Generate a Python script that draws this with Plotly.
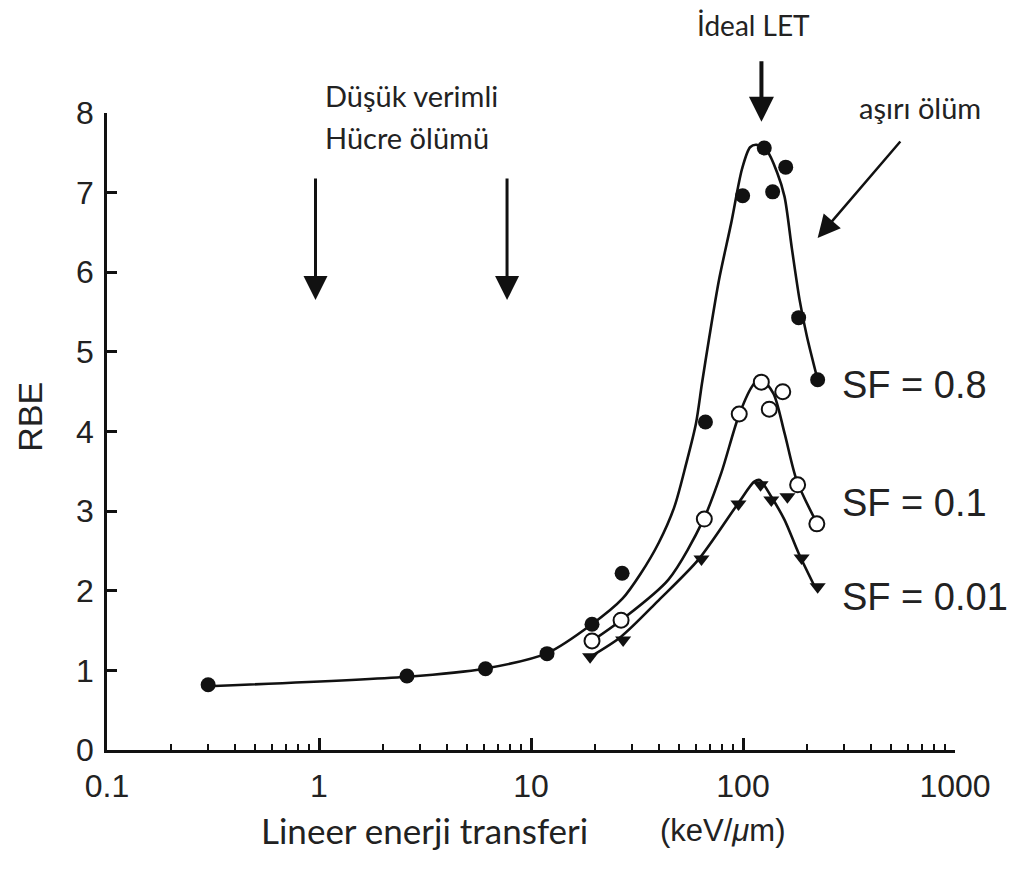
import plotly.graph_objects as go

# ---- data ----
let_sf08 = [0.3, 2.6, 6.1, 11.9, 19.4, 26.9, 66.5, 99.6, 126, 138, 159, 183, 225]
rbe_sf08 = [0.82, 0.93, 1.02, 1.21, 1.58, 2.22, 4.12, 6.96, 7.56, 7.01, 7.32, 5.43, 4.65]

let_sf01 = [19.4, 26.6, 65.7, 96, 122, 133, 154, 181, 223]
rbe_sf01 = [1.37, 1.63, 2.90, 4.22, 4.62, 4.28, 4.50, 3.33, 2.84]

let_sf001 = [19, 27.2, 63.7, 95.2, 121, 136, 162, 189, 225]
rbe_sf001 = [1.17, 1.38, 2.40, 3.09, 3.33, 3.14, 3.18, 2.41, 2.05]

# fitted curves
curve08_x = [0.3, 2.6, 6.0, 12, 19.4, 27, 33, 40, 47.4, 54, 60, 64, 69, 77, 88, 99, 108, 116, 130, 145, 157, 170, 185, 200, 225]
curve08_y = [0.8, 0.92, 1.02, 1.22, 1.58, 1.9, 2.22, 2.6, 3.05, 3.6, 4.1, 4.6, 5.15, 5.9, 6.62, 7.3, 7.57, 7.6, 7.52, 7.25, 6.95, 6.3, 5.65, 5.2, 4.65]

curve01_x = [19.4, 26.6, 44.5, 65, 79, 95, 110, 120, 139, 157, 179, 223]
curve01_y = [1.37, 1.63, 2.14, 2.89, 3.48, 4.18, 4.56, 4.67, 4.48, 3.98, 3.39, 2.85]

curve001_x = [19, 26.5, 40, 61.6, 95, 113, 120, 136, 157, 183, 218]
curve001_y = [1.17, 1.42, 1.88, 2.39, 3.1, 3.37, 3.39, 3.18, 2.89, 2.47, 2.05]

x_tickvals = [0.1, 1, 10, 100, 1000]
x_ticktext = ["0.1", "1", "10", "100", "1000"]
x_minor = [m * d for d in [0.1, 1, 10, 100] for m in range(2, 10)]
y_tickvals = [0, 1, 2, 3, 4, 5, 6, 7, 8]

INK = "#111111"
TXT = "#222222"
SANS = "Liberation Sans, Arial, sans-serif"
CAL = "Lato, Open Sans, sans-serif"

fig = go.Figure()
for cx, cy in [(curve08_x, curve08_y), (curve01_x, curve01_y), (curve001_x, curve001_y)]:
    fig.add_trace(go.Scatter(x=cx, y=cy, mode="lines",
                             line=dict(color=INK, width=2.6, shape="spline", smoothing=0.8),
                             hoverinfo="skip", showlegend=False))

fig.add_trace(go.Scatter(x=let_sf08, y=rbe_sf08, mode="markers",
                         marker=dict(symbol="circle", size=15, color=INK),
                         showlegend=False, cliponaxis=False))
fig.add_trace(go.Scatter(x=let_sf01, y=rbe_sf01, mode="markers",
                         marker=dict(symbol="circle", size=15, color="white",
                                     line=dict(color=INK, width=2)),
                         showlegend=False, cliponaxis=False))
fig.add_trace(go.Scatter(x=let_sf001, y=rbe_sf001, mode="markers",
                         marker=dict(symbol="triangle-down", size=14, color=INK),
                         showlegend=False, cliponaxis=False))


def label(text, x, y, size, family=CAL, xanchor="center", angle=0):
    return dict(text=text, x=x, y=y, xref="paper", yref="paper", xanchor=xanchor, yanchor="middle",
                textangle=angle, showarrow=False, font=dict(family=family, size=size, color=TXT))


ann = []
ann.append(label("İdeal LET", 0.762, 1.138, 28))
ann.append(label("Düşük verimli", 0.2547, 1.027, 29, xanchor="left"))
ann.append(label("Hücre ölümü", 0.2547, 0.962, 29, xanchor="left"))
ann.append(label("aşırı ölüm", 0.959, 1.008, 29))
for txt, yy in [("SF = 0.8", 0.573), ("SF = 0.1", 0.388), ("SF = 0.01", 0.240)]:
    ann.append(label(txt, 0.864, yy, 38, family=SANS, xanchor="left"))
ann.append(label("Lineer enerji transferi", 0.374, -0.1256, 35))
ann.append(label("(keV/<i>μ</i>m)", 0.727, -0.1256, 31, family=SANS))
ann.append(label("RBE", -0.0908, 0.523, 34, family=SANS, angle=-90))


def arrow(xlog, y, ax, ay, w=3, s=1.6):
    return dict(x=xlog, y=y, xref="x", yref="y", ax=ax, ay=ay, text="",
                showarrow=True, arrowhead=2, arrowwidth=w, arrowsize=s, arrowcolor=INK)


ann.append(arrow(-0.0165, 5.65, 0, -123))
ann.append(arrow(0.887, 5.65, 0, -123))
ann.append(arrow(2.087, 7.89, 0, -62, w=4, s=1.25))
ann.append(arrow(2.352, 6.43, 84, -98, w=2.5, s=1.8))

fig.update_layout(
    width=1011, height=872,
    margin=dict(l=107, r=56, t=113, b=122, autoexpand=False),
    paper_bgcolor="white", plot_bgcolor="white",
    annotations=ann,
    xaxis=dict(type="log", range=[-1, 3], tickmode="array", tickvals=x_tickvals, ticktext=x_ticktext,
               ticks="inside", ticklen=12, tickwidth=2.5, tickcolor=INK, ticklabelstandoff=6,
               showline=True, linecolor=INK, linewidth=2.6, showgrid=False, zeroline=False,
               tickfont=dict(family=SANS, size=32, color=TXT),
               minor=dict(tickvals=x_minor, ticks="inside", ticklen=6, tickwidth=2.2, tickcolor=INK, showgrid=False)),
    yaxis=dict(range=[0, 8], tickmode="array", tickvals=y_tickvals,
               ticks="inside", ticklen=10, tickwidth=2.5, tickcolor=INK, ticklabelstandoff=4,
               showline=True, linecolor=INK, linewidth=2.6, showgrid=False, zeroline=False,
               tickfont=dict(family=SANS, size=32, color=TXT)),
)

fig.write_html("out.html")
